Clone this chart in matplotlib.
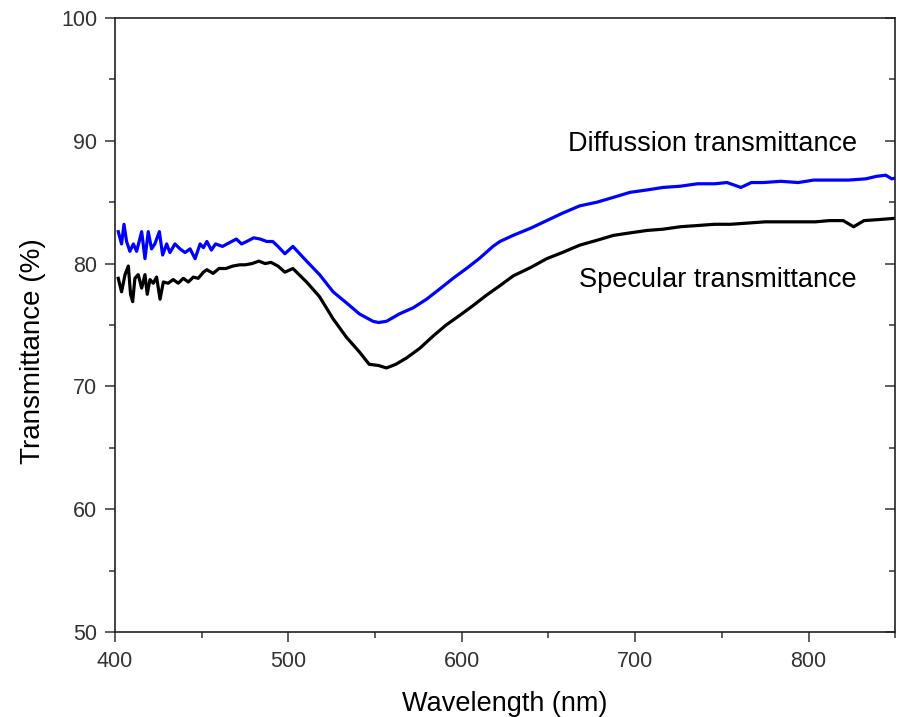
import matplotlib
matplotlib.use('Agg')
import matplotlib.pyplot as plt
from matplotlib.ticker import MultipleLocator

plt.rcParams['font.family'] = ['Liberation Sans', 'DejaVu Sans']

# diffusion transmittance (blue), wavelength in nm / transmittance in %
wl_diff = [401.9, 403.8, 405.2, 406.7, 408.6, 410.6, 412.5, 415.4, 417.3, 419.2,
           421.1, 423.0, 425.6, 427.5, 429.8, 431.7, 434.6, 437.5, 440.4, 443.3,
           446.2, 449.1, 451.0, 453.0, 455.6, 458.0, 462.0, 466.0, 470.0, 473.0,
           476.0, 480.0, 483.7, 487.5, 491.0, 494.0, 498.0, 502.6, 510.5, 518.0,
           525.8, 533.5, 541.0, 548.8, 552.0, 556.6, 564.0, 572.0, 579.7, 587.0,
           595.0, 602.7, 610.0, 618.0, 622.0, 629.7, 640.0, 649.0, 658.0, 668.0,
           678.0, 687.6, 697.0, 707.0, 716.0, 726.0, 736.0, 745.8, 753.0, 761.0,
           767.0, 774.0, 784.0, 794.0, 803.0, 813.0, 823.0, 833.0, 839.0, 844.5,
           848.0, 851.0]
tr_diff = [82.6, 81.6, 83.2, 81.8, 81.0, 81.6, 81.0, 82.6, 80.4, 82.6,
           81.2, 81.6, 82.6, 80.7, 81.6, 80.9, 81.6, 81.2, 80.9, 81.2,
           80.4, 81.6, 81.3, 81.8, 81.1, 81.6, 81.4, 81.7, 82.0, 81.6,
           81.8, 82.1, 82.0, 81.8, 81.8, 81.4, 80.8, 81.4, 80.2, 79.1,
           77.7, 76.8, 75.9, 75.3, 75.2, 75.3, 75.9, 76.4, 77.1, 77.9,
           78.8, 79.6, 80.4, 81.4, 81.8, 82.3, 82.9, 83.5, 84.1, 84.7,
           85.0, 85.4, 85.8, 86.0, 86.2, 86.3, 86.5, 86.5, 86.6, 86.2,
           86.6, 86.6, 86.7, 86.6, 86.8, 86.8, 86.8, 86.9, 87.1, 87.2,
           86.9, 87.0]

# specular transmittance (black)
wl_spec = [401.9, 403.8, 405.8, 407.7, 409.0, 410.2, 411.5, 413.4, 415.4, 417.3,
           418.6, 420.2, 422.1, 424.0, 426.0, 427.9, 430.7, 433.6, 436.5, 439.4,
           442.3, 445.2, 448.0, 451.0, 453.0, 456.6, 460.0, 464.0, 468.0, 472.0,
           475.0, 479.0, 483.0, 486.6, 490.0, 494.0, 498.0, 502.6, 510.5, 518.0,
           525.8, 533.5, 541.0, 546.6, 552.0, 556.6, 562.0, 568.0, 575.8, 583.5,
           591.0, 599.0, 606.7, 614.0, 622.0, 629.7, 640.0, 649.0, 658.0, 668.0,
           678.0, 687.6, 697.0, 707.0, 716.0, 726.0, 736.0, 745.8, 755.0, 765.0,
           775.0, 784.7, 794.0, 804.0, 812.0, 820.0, 826.0, 832.0, 842.0, 851.0]
tr_spec = [78.8, 77.7, 79.1, 79.8, 77.5, 76.9, 78.8, 79.1, 78.0, 79.1,
           77.5, 78.7, 78.4, 78.9, 77.1, 78.5, 78.4, 78.7, 78.4, 78.8,
           78.5, 78.9, 78.8, 79.3, 79.5, 79.2, 79.6, 79.6, 79.8, 79.9,
           79.9, 80.0, 80.2, 80.0, 80.1, 79.8, 79.3, 79.6, 78.5, 77.3,
           75.5, 74.0, 72.8, 71.8, 71.7, 71.5, 71.8, 72.3, 73.1, 74.1,
           75.0, 75.8, 76.6, 77.4, 78.2, 79.0, 79.7, 80.4, 80.9, 81.5,
           81.9, 82.3, 82.5, 82.7, 82.8, 83.0, 83.1, 83.2, 83.2, 83.3,
           83.4, 83.4, 83.4, 83.4, 83.5, 83.5, 83.0, 83.5, 83.6, 83.7]

fig = plt.figure(figsize=(9.01, 7.17), dpi=100)
ax = fig.add_axes([0.1276, 0.1186, 0.8660, 0.8563])

ax.plot(wl_diff, tr_diff, color='#0000ff', lw=2.3)
ax.plot(wl_spec, tr_spec, color='black', lw=2.3)

ax.set_xlim(400, 850)
ax.set_ylim(50, 100)
ax.xaxis.set_major_locator(MultipleLocator(100))
ax.xaxis.set_minor_locator(MultipleLocator(50))
ax.yaxis.set_major_locator(MultipleLocator(10))
ax.yaxis.set_minor_locator(MultipleLocator(5))

ax.tick_params(which='both', direction='out', labelsize=15.5, colors='#333333',
               top=False, right=False)
ax.tick_params(which='major', length=7.2, width=1.1)
ax.tick_params(which='minor', length=4, width=1.1)
ax.tick_params(axis='y', which='major', pad=5.5)
ax.tick_params(axis='x', which='major', pad=6.5)
ax.yaxis.set_tick_params(which='both', right=True)
for t in ax.yaxis.get_ticklines(minor=False)[1::2] + ax.yaxis.get_ticklines(minor=True)[1::2]:
    t.set_marker(0)  # right-side ticks point inward
for sp in ax.spines.values():
    sp.set_linewidth(1.2)
    sp.set_color('#222222')

ax.set_xlabel('Wavelength (nm)', fontsize=19.5, labelpad=14)
ax.set_ylabel('Transmittance (%)', fontsize=20)
ax.yaxis.set_label_coords(-0.089, 0.457)

ax.text(828, 89.75, 'Diffussion transmittance', fontsize=19.5,
        ha='right', va='center')
ax.text(828, 78.7, 'Specular transmittance', fontsize=19.5,
        ha='right', va='center')

fig.savefig('out.png', dpi=100)
